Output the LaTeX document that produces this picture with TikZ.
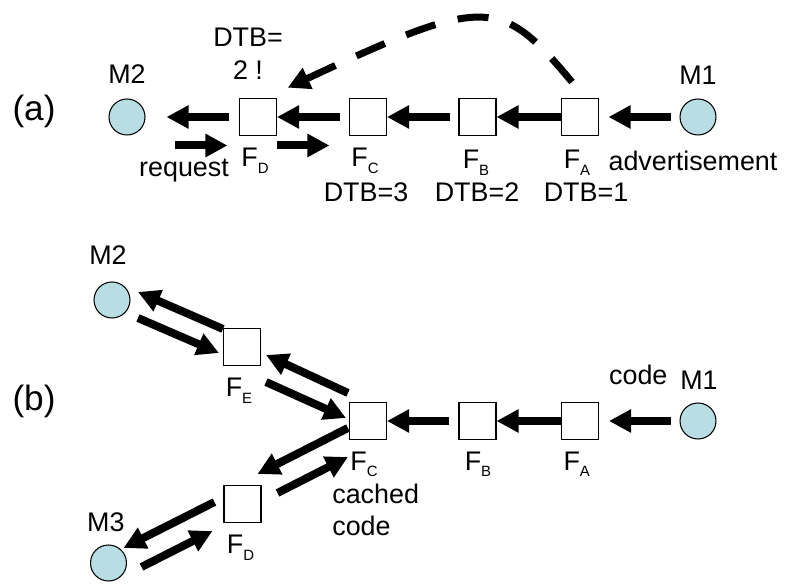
\documentclass[tikz,border=0pt]{standalone}
\usepackage{fontspec}
\setmainfont{Liberation Sans}
\usetikzlibrary{arrows.meta,positioning,calc}
\definecolor{hostblue}{RGB}{184,222,228}
\newcommand{\fsub}[1]{\raisebox{-0.14cm}{\fontsize{8.5}{10}\selectfont #1}}

\begin{document}
\begin{tikzpicture}[x=0.02cm,y=-0.02cm,
    font=\fontsize{15.3}{18.9}\selectfont,
    host/.style={circle,draw,line width=0.6pt,fill=hostblue,minimum size=0.72cm,inner sep=0pt},
    fwd/.style={rectangle,draw,line width=0.8pt,fill=white,minimum size=0.733cm,inner sep=0pt},
    lab/.style={anchor=base,inner sep=0pt},
    tag/.style={lab,font=\fontsize{20}{24}\selectfont},
    flow/.style={line width=0.16cm,-{Triangle[length=0.44cm,width=0.44cm]}},
    hop/.style={flow,dash pattern=on 0.62cm off 0.46cm,line width=0.14cm}]
    \useasboundingbox (0,0) rectangle (785,584);

    % (a) advertisement along the chain
    \node[tag] (taga) at (34,120.5) {(a)};
    \node[host] (m2a) at (127,117) {};
    \node[fwd] (fda) at (258,117) {};
    \node[fwd] (fca) at (368,117) {};
    \node[fwd] (fba) at (477.5,117) {};
    \node[fwd] (faa) at (580,117) {};
    \node[host] (m1a) at (698,117) {};

    \node[lab] (m2alab) at (127,84) {M2};
    \node[lab] (m1alab) at (698,85) {M1};
    \node[lab] (dtbtop) at (248,46.7) {DTB=};
    \node[lab] (dtbbot) at (248,80) {2 !};
    \node[lab] (reqlab) at (184,176.7) {request};
    \node[lab] (fdalab) at (255,167) {F\fsub{D}};
    \node[lab] (fcalab) at (365,167) {F\fsub{C}};
    \node[lab] (fbalab) at (476,169) {F\fsub{B}};
    \node[lab] (faalab) at (577,169) {F\fsub{A}};
    \node[lab] (dtbc) at (366,202) {DTB=3};
    \node[lab] (dtbb) at (477,202) {DTB=2};
    \node[lab] (dtba) at (586,202) {DTB=1};
    \node[lab] (advlab) at (693,171) {advertisement};

    \draw[flow,shorten <=0.19cm,shorten >=0.42cm] (fda) -- (m2a);
    \draw[flow,shorten <=0.18cm] (fca) -- (fda);
    \draw[flow,shorten <=0.17cm] (fba) -- (fca);
    \draw[flow] (faa) -- (fba);
    \draw[flow,shorten <=0.17cm,shorten >=0.19cm] (m1a) -- (faa);
    \draw[flow,shorten <=0.58cm,shorten >=0.23cm] ([yshift=-0.57cm]m2a.east) -- ([yshift=-0.57cm]fda.west);
    \draw[flow,shorten >=0.39cm] ([yshift=-0.57cm]fda.east) -- ([yshift=-0.57cm]fca.west);
    \draw[hop] ($(faa.north)+(-8,-16)$) .. controls (501,-3) and (486,-5) .. ($(fda.north east)+(10.7,-10.3)$);

    % (b) code cached at F_C
    \node[tag] (tagb) at (34,410.5) {(b)};
    \node[host] (m2b) at (112,300) {};
    \node[fwd] (feb) at (242,347) {};
    \node[fwd] (fcb) at (368,421) {};
    \node[fwd] (fdb) at (242.5,504) {};
    \node[host] (m3b) at (108.5,563) {};
    \node[fwd] (fbb) at (477.5,421) {};
    \node[fwd] (fab) at (580,421) {};
    \node[host] (m1b) at (698,421) {};

    \node[lab] (m2blab) at (108,265) {M2};
    \node[lab] (m3blab) at (105.8,531.7) {M3};
    \node[lab] (m1blab) at (699,389.3) {M1};
    \node[lab] (codelab) at (638.3,385) {code};
    \node[lab] (feblab) at (239,396.7) {F\fsub{E}};
    \node[lab] (fcblab) at (364,470) {F\fsub{C}};
    \node[lab] (fdblab) at (240.5,553.3) {F\fsub{D}};
    \node[lab] (fbblab) at (478,470) {F\fsub{B}};
    \node[lab] (fablab) at (576.7,470) {F\fsub{A}};
    \node[lab,anchor=base west] (cachetop) at (332,503.3) {cached};
    \node[lab,anchor=base west] (cachebot) at (332,535) {code};

    \draw[flow,shorten <=0.17cm,shorten >=0.2cm] (m1b) -- (fab);
    \draw[flow] (fab) -- (fbb);
    \draw[flow,shorten <=0.18cm] (fbb) -- (fcb);
    \draw[flow] ($(feb.north west)+(0,1)$) -- ($(m2b)+(26,-8)$);
    \draw[flow] ($(m2b)+(26,18)$) -- ($(feb.west)+(-4,6)$);
    \draw[flow] ($(fcb.north west)+(-1,-9)$) -- ($(feb.east)+(5,8)$);
    \draw[flow] ($(feb.south east)+(5,16)$) -- ($(fcb.west)+(-3,-3)$);
    \draw[flow] ($(fcb.west)+(-1,7)$) -- ($(fdb.north east)+(-4,-11)$);
    \draw[flow] ($(fdb.east)+(16,-11)$) -- ($(fcb.south west)+(-1,17)$);
    \draw[flow] ($(fdb.west)+(-9,-2)$) -- ($(m3b)+(15,-15)$);
    \draw[flow] ($(m3b)+(33,4)$) -- ($(fdb.south west)+(-11,8)$);
\end{tikzpicture}
\end{document}
